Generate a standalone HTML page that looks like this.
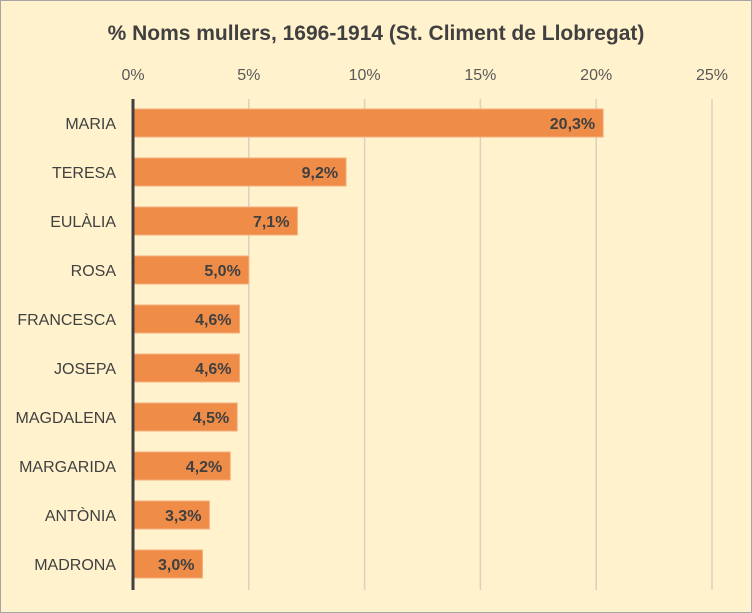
<!DOCTYPE html>
<html><head><meta charset="utf-8"><style>
html,body{margin:0;padding:0;background:#fff;}
svg{display:block;font-family:"Liberation Sans",sans-serif;}
</style></head><body>
<svg width="752" height="613" viewBox="0 0 752 613">
<rect x="0.5" y="0.5" width="751" height="612" fill="#FFF2CC" stroke="#A6A6A6"/>
<text x="376" y="40" text-anchor="middle" font-size="21" font-weight="bold" fill="#404040">% Noms mullers, 1696-1914 (St. Climent de Llobregat)</text>
<g id="grid"></g><g id="bars"></g><g id="labels"></g>
<line x1="133" y1="99" x2="133" y2="590" stroke="#404040" stroke-width="3"/>
</svg>
<script>
const categories=["MARIA","TERESA","EULÀLIA","ROSA","FRANCESCA","JOSEPA","MAGDALENA","MARGARIDA","ANTÒNIA","MADRONA"];
const values=[20.3,9.2,7.1,5.0,4.6,4.6,4.5,4.2,3.3,3.0];
const valueLabels=["20,3%","9,2%","7,1%","5,0%","4,6%","4,6%","4,5%","4,2%","3,3%","3,0%"];
const ticks=[0,5,10,15,20,25];
const tickLabels=["0%","5%","10%","15%","20%","25%"];
const NS="http://www.w3.org/2000/svg";
const x0=133,pxPer=(712-133)/25;
const xs=v=>x0+v*pxPer;
const y0=123,step=49;
const ys=i=>y0+i*step;
function mk(t,a,p){const e=document.createElementNS(NS,t);for(const k in a)e.setAttribute(k,a[k]);p.appendChild(e);return e;}
const g=document.getElementById('grid'),b=document.getElementById('bars'),l=document.getElementById('labels');
ticks.forEach((t,i)=>{
 if(t>0){const ln=mk('line',{x1:xs(t),x2:xs(t),y1:99,y2:590,stroke:'#D9D2BD','stroke-width':1.5},g);
 
 }
 const tx=mk('text',{x:xs(t),y:80,'text-anchor':'middle','font-size':16,fill:'#595959'},g);
 tx.textContent=tickLabels[i];
 
 
});
categories.forEach((c,i)=>{
 const y=ys(i);
 const r=mk('rect',{x:x0+1,y:y-14,width:xs(values[i])-x0-1,height:28,fill:'#EF8D48',stroke:'#F4B07E','stroke-width':1},b);
 
 
 const ct=mk('text',{x:116,y:y+6,'text-anchor':'end','font-size':16,fill:'#404040'},l);
 ct.textContent=c;
 
 
 const vt=mk('text',{x:xs(values[i])-8,y:y+6,'text-anchor':'end','font-size':16,'font-weight':'bold',fill:'#404040'},l);
 vt.textContent=valueLabels[i];
 
 
});
</script>
</body></html>
